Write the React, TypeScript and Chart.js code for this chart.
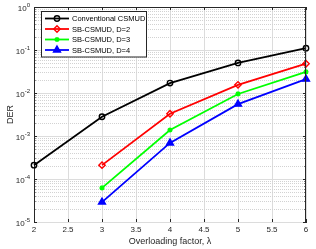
import React, { useEffect, useRef } from 'react';
import { Chart, registerables } from 'chart.js';
import { drawPoint } from 'chart.js/helpers';

Chart.register(...registerables);

const lambdaAll = [2, 3, 4, 5, 6];
const lambdaSB = [3, 4, 5, 6];
const derConventional = [2.1e-4, 2.8e-3, 1.7e-2, 5.0e-2, 1.1e-1];
const derD2 = [2.1e-4, 3.3e-3, 1.55e-2, 4.8e-2];
const derD3 = [6.2e-5, 1.38e-3, 9.5e-3, 3.1e-2];
const derD4 = [2.9e-5, 6.9e-4, 5.5e-3, 2.1e-2];
const seriesLabels = ['Conventional CSMUD', 'SB-CSMUD, D=2', 'SB-CSMUD, D=3', 'SB-CSMUD, D=4'];
const xTicks = [2, 2.5, 3, 3.5, 4, 4.5, 5, 5.5, 6];
const yDecades = [-5, -4, -3, -2, -1, 0];

const FONT = '"Liberation Sans", Arial, Helvetica, sans-serif';
const AX = '#262626';

const toPts = (xs: number[], ys: number[]) => xs.map((x, i) => ({ x, y: ys[i] }));

const matlabPlugin = {
  id: 'matlabStyle',
  beforeDatasetsDraw(chart: any) {
    const { ctx, chartArea: a, scales } = chart;
    const y = scales.y;
    ctx.save();
    ctx.lineWidth = 1;
    ctx.strokeStyle = '#d2d2d2';
    ctx.setLineDash([1, 1]);
    for (let d = -5; d < 0; d++) {
      for (let k = 2; k <= 9; k++) {
        const py = Math.round(y.getPixelForValue(k * Math.pow(10, d))) + 0.5;
        ctx.beginPath();
        ctx.moveTo(a.left, py);
        ctx.lineTo(a.right, py);
        ctx.stroke();
      }
    }
    ctx.setLineDash([]);
    ctx.strokeStyle = '#dcdcdc';
    for (const d of yDecades) {
      const py = Math.round(y.getPixelForValue(Math.pow(10, d))) + 0.5;
      ctx.beginPath();
      ctx.moveTo(a.left, py);
      ctx.lineTo(a.right, py);
      ctx.stroke();
    }
    ctx.restore();
  },
  afterDraw(chart: any) {
    const { ctx, chartArea: a, scales } = chart;
    const x = scales.x;
    const y = scales.y;
    ctx.save();
    ctx.strokeStyle = AX;
    ctx.lineWidth = 1;
    ctx.beginPath();
    ctx.moveTo(a.left, Math.round(a.top) + 0.5);
    ctx.lineTo(a.right, Math.round(a.top) + 0.5);
    ctx.moveTo(Math.round(a.right) - 0.5, a.top);
    ctx.lineTo(Math.round(a.right) - 0.5, a.bottom);
    ctx.stroke();
    ctx.beginPath();
    for (const v of xTicks) {
      const px = Math.round(x.getPixelForValue(v)) + 0.5;
      ctx.moveTo(px, a.bottom);
      ctx.lineTo(px, a.bottom - 3);
      ctx.moveTo(px, a.top);
      ctx.lineTo(px, a.top + 3);
    }
    for (let d = -5; d <= 0; d++) {
      for (let k = 1; k <= 9; k++) {
        if (d === 0 && k > 1) break;
        const py = Math.round(y.getPixelForValue(k * Math.pow(10, d))) + 0.5;
        const len = k === 1 ? 3 : 1.5;
        ctx.moveTo(a.left, py);
        ctx.lineTo(a.left + len, py);
        ctx.moveTo(a.right, py);
        ctx.lineTo(a.right - len, py);
      }
    }
    ctx.stroke();
    ctx.fillStyle = AX;
    ctx.textBaseline = 'middle';
    ctx.textAlign = 'left';
    for (const d of yDecades) {
      const py = y.getPixelForValue(Math.pow(10, d));
      const expTxt = d === 0 ? '0' : '-' + Math.abs(d);
      ctx.font = `6px ${FONT}`;
      const we = ctx.measureText(expTxt).width;
      ctx.font = `8px ${FONT}`;
      const wb = ctx.measureText('10').width;
      const right = a.left - 4;
      ctx.fillText('10', right - we - wb, py + 1.3);
      ctx.font = `6px ${FONT}`;
      ctx.fillText(expTxt, right - we, py - 2);
    }
    const bx = 41.5, by = 11.5, bw = 105, bh = 45.5;
    ctx.fillStyle = '#ffffff';
    ctx.fillRect(bx, by, bw, bh);
    ctx.strokeStyle = AX;
    ctx.lineWidth = 1;
    ctx.strokeRect(bx, by, bw, bh);
    const rows = [18.5, 29, 39.5, 50];
    chart.data.datasets.forEach((ds: any, i: number) => {
      const ry = rows[i];
      ctx.strokeStyle = ds.borderColor;
      ctx.lineWidth = ds.borderWidth;
      ctx.beginPath();
      ctx.moveTo(45, ry);
      ctx.lineTo(69, ry);
      ctx.stroke();
      ctx.fillStyle = ds.pointBackgroundColor;
      ctx.strokeStyle = ds.pointBorderColor;
      ctx.lineWidth = ds.pointBorderWidth;
      drawPoint(ctx, { pointStyle: ds.pointStyle, radius: ds.pointRadius, borderWidth: ds.pointBorderWidth, rotation: 0 }, 57, ry);
      ctx.fillStyle = '#000000';
      ctx.font = `7.5px ${FONT}`;
      ctx.textAlign = 'left';
      ctx.textBaseline = 'middle';
      ctx.fillText(seriesLabels[i], 72, ry + 0.5);
    });
    ctx.restore();
  },
};

export default function App() {
  const ref = useRef<HTMLCanvasElement | null>(null);
  useEffect(() => {
    if (!ref.current) return;
    const mk = (label: string, data: any, color: string, style: string, radius: number, fill: string) => ({
      label,
      data,
      borderColor: color,
      borderWidth: 1.8,
      pointStyle: style,
      pointRadius: radius,
      pointBorderColor: color,
      pointBackgroundColor: fill,
      pointBorderWidth: 1.4,
      tension: 0,
      clip: false as any,
    });
    const chart = new Chart(ref.current, {
      type: 'line',
      data: {
        datasets: [
          mk(seriesLabels[0], toPts(lambdaAll, derConventional), '#000000', 'circle', 2.7, 'rgba(0,0,0,0)'),
          mk(seriesLabels[1], toPts(lambdaSB, derD2), '#ff0000', 'rectRot', 3.2, 'rgba(0,0,0,0)'),
          mk(seriesLabels[2], toPts(lambdaSB, derD3), '#00ff00', 'star', 2.6, 'rgba(0,0,0,0)'),
          mk(seriesLabels[3], toPts(lambdaSB, derD4), '#0000ff', 'triangle', 4, '#0000ff'),
        ] as any,
      },
      options: {
        responsive: false,
        animation: false,
        events: [],
        layout: { padding: { left: 0, right: 10, top: 7, bottom: 0 } },
        plugins: { legend: { display: false }, tooltip: { enabled: false } },
        scales: {
          x: {
            type: 'linear',
            min: 2,
            max: 6,
            afterBuildTicks: (s: any) => {
              s.ticks = xTicks.map((v) => ({ value: v }));
            },
            ticks: {
              font: { family: FONT, size: 8 },
              color: AX,
              padding: 3,
              maxRotation: 0,
              autoSkip: false,
              callback: (v: any) => String(v),
            },
            grid: { color: '#dcdcdc', drawTicks: false, lineWidth: 1 },
            border: { color: AX, width: 1 },
            title: {
              display: true,
              text: 'Overloading factor, λ',
              font: { family: FONT, size: 9 },
              color: AX,
              padding: { top: 0, bottom: 2 },
            },
            afterFit: (s: any) => {
              s.height = 27;
              s.paddingLeft = 0;
              s.paddingRight = 0;
            },
          },
          y: {
            type: 'logarithmic',
            min: 1e-5,
            max: 1,
            ticks: { display: false },
            grid: { display: false },
            border: { color: AX, width: 1 },
            title: {
              display: true,
              text: 'DER',
              font: { family: FONT, size: 9 },
              color: AX,
              padding: { top: 5, bottom: 0 },
            },
            afterFit: (s: any) => {
              s.width = 34;
              s.paddingTop = 0;
              s.paddingBottom = 0;
            },
          },
        },
      } as any,
      plugins: [matlabPlugin],
    });
    return () => chart.destroy();
  }, []);
  return (
    <div style={{ position: 'fixed', left: 0, top: 0, width: 316, height: 249, background: '#fff' }}>
      <canvas ref={ref} width={316} height={249} style={{ display: 'block' }} />
    </div>
  );
}
